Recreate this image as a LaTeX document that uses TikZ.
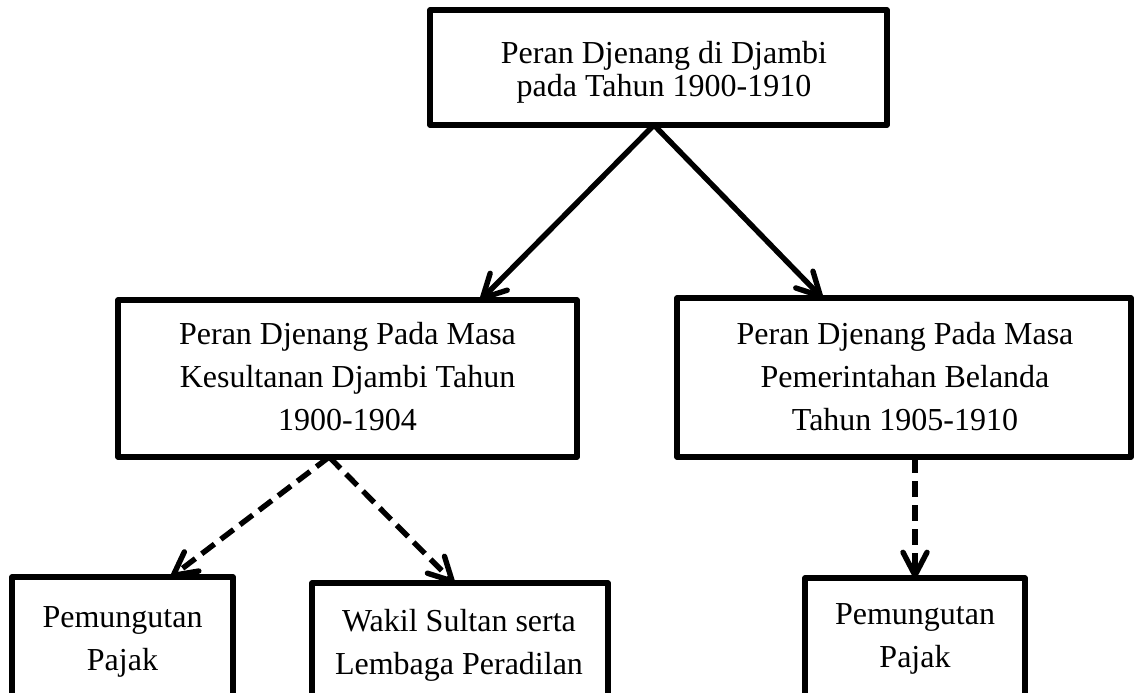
\documentclass[tikz,border=0pt]{standalone}
\usepackage{fontspec}
\setmainfont{Liberation Serif}
\usetikzlibrary{arrows.meta,calc}
\begin{document}
\begin{tikzpicture}[x=0.5pt,y=-0.5pt,
  box/.style={draw,line width=2.8pt,line join=round,inner sep=0pt,outer sep=0pt},
  txt/.style={align=center,inner sep=0pt,font=\fontsize{16pt}{21.5pt}\selectfont},
  conn/.style={line width=2.7pt,line cap=round,-{Straight Barb[length=11.5pt,width=12pt,round]}},
  dconn/.style={conn,line cap=butt,dash pattern=on 8pt off 4pt}]
\useasboundingbox (0,0) rectangle (1135,692);
\clip (0,0) rectangle (1135,692);
% boxes
\node[box,minimum width=228.5pt,minimum height=57.5pt] (top) at (658.5,67.5) {};
\node[box,minimum width=229.5pt,minimum height=78.5pt] (ml) at (347.5,378.5) {};
\node[box,minimum width=227pt,minimum height=79.5pt] (mr) at (904,377.5) {};
\node[box,minimum width=110.5pt,minimum height=62pt] (b1) at (122.5,639) {};
\node[box,minimum width=148pt,minimum height=62pt] (b2) at (460,645) {};
\node[box,minimum width=110pt,minimum height=62pt] (b3) at (915,640) {};
% texts
\node[txt,font=\fontsize{16pt}{16.5pt}\selectfont] (topT) at (664,72) {Peran Djenang di Djambi\\pada Tahun 1900-1910};
\node[txt] (mlT) at (347.5,377) {Peran Djenang Pada Masa\\Kesultanan Djambi Tahun\\1900-1904};
\node[txt] (mrT) at (905,377) {Peran Djenang Pada Masa\\Pemerintahan Belanda\\Tahun 1905-1910};
\node[txt] (b1T) at (122.5,642) {Pemungutan\\Pajak};
\node[txt] (b2T) at (459,645) {Wakil Sultan serta\\Lembaga Peradilan};
\node[txt] (b3T) at (915,639) {Pemungutan\\Pajak};
% connector points
\coordinate (apex) at ($(top.south west)!0.49!(top.south east)$);
\coordinate (mlin) at ($(ml.north west)!0.79!(ml.north east)$);
\coordinate (mrin) at ($(mr.north west)!0.32!(mr.north east)$);
\coordinate (mlout) at ($(ml.south west)!0.46!(ml.south east)$);
\coordinate (b1in) at ($(b1.north west)!0.72!(b1.north east)$);
\coordinate (b2in) at ($(b2.north west)!0.48!(b2.north east)$);
% connectors
\draw[conn] (apex) -- (mlin);
\draw[conn] (apex) -- (mrin);
\draw[dconn] (mlout) -- (b1in);
\draw[dconn] (mlout) -- (b2in);
\draw[dconn] (b3.north |- mr.south) -- (b3.north);
\end{tikzpicture}
\end{document}
